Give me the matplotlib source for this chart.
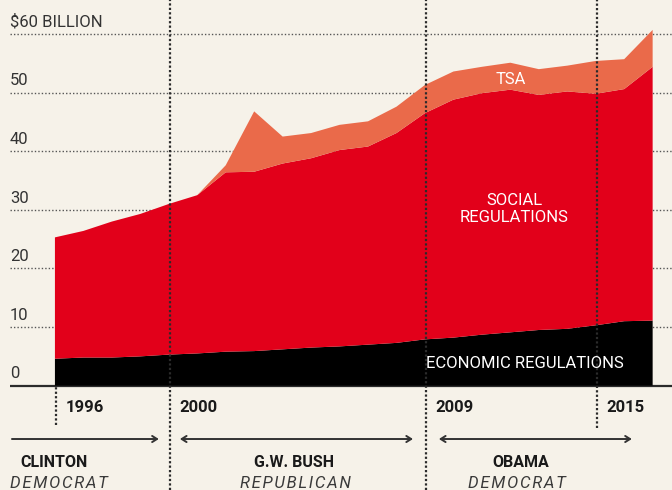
import matplotlib
matplotlib.use("Agg")
import matplotlib.pyplot as plt
import numpy as np

plt.rcParams['font.family'] = ['Roboto', 'DejaVu Sans']

# federal regulatory spending, $ billion
years = list(range(1996, 2018))
economic = [4.6, 4.8, 4.8, 5.0, 5.3, 5.5, 5.8, 5.9, 6.2, 6.5, 6.7,
            7.0, 7.3, 7.9, 8.2, 8.7, 9.1, 9.5, 9.7, 10.3, 11.0, 11.1]
social = [20.7, 21.6, 23.2, 24.3, 25.7, 27.0, 30.6, 30.6, 31.7, 32.3, 33.5,
          33.8, 35.8, 38.6, 40.6, 41.2, 41.4, 40.1, 40.5, 39.5, 39.6, 43.3]
tsa = [0, 0, 0, 0, 0, 0, 1.2, 10.3, 4.6, 4.3, 4.3,
       4.3, 4.5, 4.8, 4.8, 4.5, 4.6, 4.4, 4.4, 5.6, 5.1, 6.3]

ticks = [0, 10, 20, 30, 40, 50, 60]
tick_labels = ['0', '10', '20', '30', '40', '50', '$60 BILLION']

marked_years = [1996, 2000, 2009, 2015]
presidents = ['CLINTON', 'G.W. BUSH', 'OBAMA']
parties = ['DEMOCRAT', 'REPUBLICAN', 'DEMOCRAT']

BG = '#f6f2e9'
RED = '#e2001a'
ORANGE = '#ea6a4a'
INK = '#2b2b2b'

fig = plt.figure(figsize=(6.72, 4.9), dpi=100, facecolor=BG)
ax = fig.add_axes([0, 0, 1, 1])
ax.set_facecolor(BG)
ax.set_xlim(1994.07, 2017.68)
ax.set_ylim(-17.8, 65.8)
ax.axis('off')

x_left, x_right = 1994.42, 2017.68

# gridlines behind the areas
ax.hlines(ticks[1:], x_left, x_right, colors='#555555', lw=1.0,
          linestyles=(0, (1, 1.5)), zorder=1)
ax.hlines(0, x_left, x_right, colors=INK, lw=1.6, zorder=1)
for t, lab in zip(ticks, tick_labels):
    ax.text(x_left, t + 1.25, lab, fontsize=12, color='#333333',
            ha='left', va='baseline', zorder=5)

ax.stackplot(years, economic, social, tsa, colors=['#000000', RED, ORANGE],
             linewidth=0, zorder=2)

# term dividers and year markers
vspans = {1996: (-6.7, 0), 2000: (-17.8, 65.8), 2009: (-17.8, 65.8), 2015: (-7.2, 65.8)}
for yr in marked_years:
    lo, hi = vspans[yr]
    ax.vlines(yr + 0.04, lo, hi, colors=INK, lw=1.6,
              linestyles=(0, (1, 1)), zorder=4)
    ax.text(yr + 0.37, -4.5, str(yr), fontsize=12, fontweight='bold',
            color='#1a1a1a', ha='left', va='baseline')

ax.text(2012.0, 52.2, 'TSA', fontsize=12, color='white', ha='center', va='center', zorder=5)
ax.text(2012.13, 30.2, 'SOCIAL\nREGULATIONS', fontsize=12, color='white',
        ha='center', va='center', linespacing=1.15, zorder=5)
ax.text(2012.5, 3.8, 'ECONOMIC REGULATIONS', fontsize=12, color='white',
        ha='center', va='center', zorder=5)

# presidential terms
arrows = [(1994.49, 1999.65, '->'), (2000.39, 2008.58, '<->'), (2009.49, 2016.27, '<->')]
for x0, x1, style in arrows:
    ax.annotate('', xy=(x1, -9.1), xytext=(x0, -9.1), annotation_clip=False,
                arrowprops=dict(arrowstyle=style + ',head_length=0.35,head_width=0.22',
                                color='#333333', lw=1.4, shrinkA=0, shrinkB=0))

name_pos = [(1994.8, 'left'), (2004.4, 'center'), (2012.37, 'center')]
party_pos = [(1994.42, 'left'), (2004.45, 'center'), (2012.23, 'center')]
for name, party, (nx, nha), (px, pha) in zip(presidents, parties, name_pos, party_pos):
    ax.text(nx, -13.9, name, fontsize=11.5, fontweight='bold', color='#1a1a1a',
            ha=nha, va='baseline')
    ax.text(px, -17.5, '\u200a'.join(party), fontsize=12, fontstyle='italic',
            color='#3a3a3a', ha=pha, va='baseline')

fig.savefig('out.png', dpi=100, facecolor=BG)
